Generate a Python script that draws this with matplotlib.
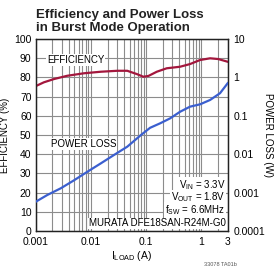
import numpy as np
import matplotlib
matplotlib.use("Agg")
from matplotlib import pyplot as plt
from matplotlib.ticker import FixedLocator, NullFormatter

plt.rcParams['font.family'] = ['Liberation Sans Narrow', 'DejaVu Sans Condensed', 'Liberation Sans']

# datos
eff_load = [0.001, 0.00141, 0.00215, 0.00373, 0.0075, 0.0151, 0.030, 0.0456, 0.051,
            0.0676, 0.089, 0.110, 0.156, 0.236, 0.411, 0.624, 0.946, 1.44, 2.03, 3.0]
eff_pct = [75.5, 77.5, 79.2, 80.9, 82.2, 83.0, 83.5, 83.5, 83.0,
           81.8, 80.4, 80.8, 83.0, 84.8, 85.6, 87.0, 89.1, 90.0, 89.6, 88.2]

loss_load = [0.001, 0.00162, 0.00284, 0.00494, 0.0086, 0.0151, 0.0262, 0.0456, 0.081,
             0.118, 0.179, 0.271, 0.411, 0.624, 0.946, 1.44, 2.18, 3.0]
loss_w = [0.00058, 0.00087, 0.0013, 0.0021, 0.0035, 0.0058, 0.0096, 0.0158, 0.032,
          0.049, 0.064, 0.086, 0.128, 0.174, 0.20, 0.26, 0.39, 0.71]

x_ticks = [0.001, 0.01, 0.1, 1, 3]
x_labels = ['0.001', '0.01', '0.1', '1', '3']
eff_ticks = list(range(0, 101, 10))
loss_ticks = [0.0001, 0.001, 0.01, 0.1, 1, 10]
loss_labels = ['0.0001', '0.001', '0.01', '0.1', '1', '10']

grid_c = '#8c8c8c'
red = '#a3173d'
blue = '#3b5fcf'
fs = 7

fig = plt.figure(figsize=(2.76, 2.70), dpi=100)
ax = fig.add_axes([0.1293, 0.1441, 0.6957, 0.7111])
ax2 = ax.twinx()

ax.set_xscale('log')
ax.set_xlim(0.001, 3)
ax.set_ylim(0, 100)
ax.set_yticks(eff_ticks)
ax.set_yticklabels([str(t) for t in eff_ticks])
ax.xaxis.set_major_locator(FixedLocator(x_ticks))
ax.set_xticklabels(x_labels)
minors = [m * 10.0**d for d in range(-3, 1) for m in range(1, 10) if m * 10.0**d <= 3]
ax.xaxis.set_minor_locator(FixedLocator(minors))
ax.xaxis.set_minor_formatter(NullFormatter())
ax.grid(True, which='both', axis='x', color=grid_c, lw=0.8)
ax.grid(True, which='major', axis='y', color=grid_c, lw=0.8)
ax.tick_params(which='both', length=0, labelsize=fs + 0.5, pad=3)
ax.tick_params(axis='x', pad=4)

ax2.set_yscale('log')
ax2.set_ylim(0.0001, 10)
ax2.yaxis.set_major_locator(FixedLocator(loss_ticks))
ax2.set_yticklabels(loss_labels)
ax2.yaxis.set_minor_formatter(NullFormatter())
ax2.tick_params(which='both', length=0, labelsize=fs + 0.5, pad=4)

for a in (ax, ax2):
    for s in a.spines.values():
        s.set_color('#222222')
        s.set_linewidth(0.9)

ax.plot(eff_load, eff_pct, color=red, lw=1.6, zorder=3)
ax2.plot(loss_load, loss_w, color=blue, lw=1.6, zorder=3)

ax.set_ylabel('EFFICIENCY (%)', fontsize=fs, labelpad=3)
ax.set_xlabel('I$_{\\mathregular{LOAD}}$ (A)', fontsize=fs + 0.5, labelpad=2)
fig.text(0.970, 0.50, 'POWER LOSS (W)', fontsize=fs, rotation=270, ha='center', va='center')

box = dict(facecolor='white', edgecolor='none', pad=0.6)
ax.text(0.0016, 89, 'EFFICIENCY', fontsize=fs, va='center', ha='left', bbox=box)
ax.text(0.0019, 45.5, 'POWER LOSS', fontsize=fs, va='center', ha='left', bbox=box)

ax.text(2.75, 24, 'V$_{\\mathregular{IN}}$ = 3.3V', fontsize=fs, ha='right', va='center', bbox=box)
ax.text(2.75, 17.5, 'V$_{\\mathregular{OUT}}$ = 1.8V', fontsize=fs, ha='right', va='center', bbox=box)
ax.text(2.75, 11, 'f$_{\\mathregular{SW}}$ = 6.6MHz', fontsize=fs, ha='right', va='center', bbox=box)
ax.text(2.75, 4, 'MURATA DFE18SAN-R24M-G0', fontsize=fs, ha='right', va='center', bbox=box)

fig.text(0.129, 0.965, 'Efficiency and Power Loss\nin Burst Mode Operation', fontsize=9.5,
         fontweight='bold', ha='left', va='top', linespacing=1.1, color='#222222')
fig.text(0.80, 0.01, '33078 TA01b', fontsize=4, ha='center', va='bottom', color='#555555')

fig.savefig('out.png', dpi=100)
